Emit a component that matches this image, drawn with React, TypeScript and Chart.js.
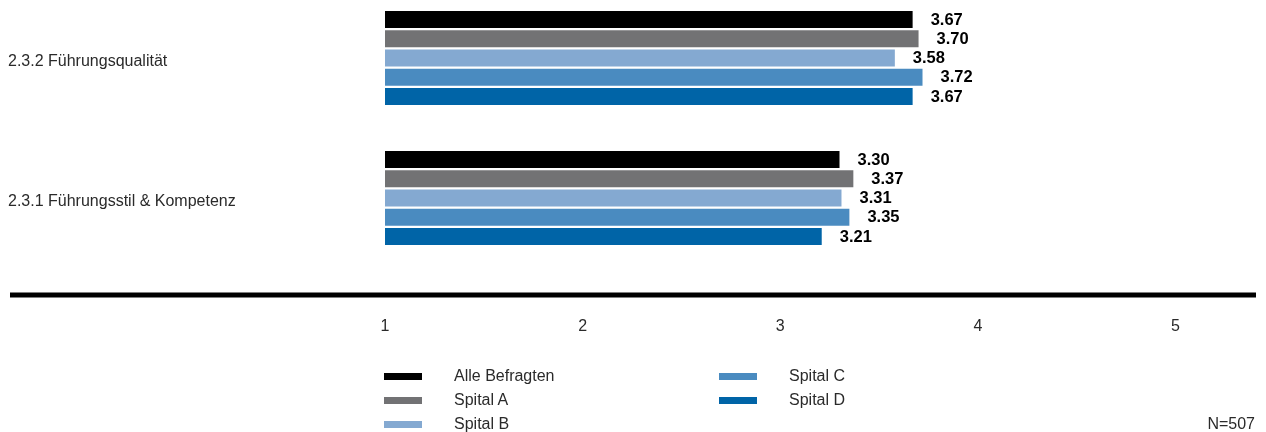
import React, { useEffect, useRef } from "react";
import { Chart, registerables } from "chart.js";

Chart.register(...registerables);

// Survey results: mean scores per hospital on a 1–5 scale
const categories = ["2.3.2 Führungsqualität", "2.3.1 Führungsstil & Kompetenz"];
const seriesNames = ["Alle Befragten", "Spital A", "Spital B", "Spital C", "Spital D"];
const alleBefragten = [3.67, 3.3];
const spitalA = [3.7, 3.37];
const spitalB = [3.58, 3.31];
const spitalC = [3.72, 3.35];
const spitalD = [3.67, 3.21];
const seriesValues = [alleBefragten, spitalA, spitalB, spitalC, spitalD];
const seriesColors = ["#000000", "#727274", "#84a9d1", "#4a8bc0", "#0064a7"];
const xTicks = [1, 2, 3, 4, 5];
const sampleNote = "N=507";

const FONT = "'Liberation Sans', Arial, Helvetica, sans-serif";
const TEXT = "#2a2a2a";

// Prints each bar's value to the right of its end
const valueLabels = {
  id: "valueLabels",
  afterDatasetsDraw(chart: any) {
    const ctx = chart.ctx;
    ctx.save();
    ctx.font = `bold 16.5px ${FONT}`;
    ctx.fillStyle = "#000";
    ctx.textAlign = "left";
    ctx.textBaseline = "middle";
    chart.data.datasets.forEach((ds: any, di: number) => {
      const meta = chart.getDatasetMeta(di);
      meta.data.forEach((bar: any, i: number) => {
        ctx.fillText(Number(ds.data[i]).toFixed(2), bar.x + 18, bar.y + 0.5);
      });
    });
    ctx.restore();
  },
};

// Heavy rule below the bars, running from the left margin to the plot's right edge
const baseRule = {
  id: "baseRule",
  afterDraw(chart: any) {
    const { ctx, chartArea } = chart;
    ctx.save();
    ctx.fillStyle = "#000";
    ctx.fillRect(10, chartArea.bottom + 94.5, chartArea.right + 1.5 - 10, 5);
    ctx.restore();
  },
};

function LegendItem({ name, color, x, y }: { name: string; color: string; x: number; y: number }) {
  return (
    <div style={{ position: "absolute", left: x, top: y - 12, height: 24, width: 300 }}>
      <div
        style={{
          position: "absolute",
          left: 0,
          top: 8.5,
          width: 38,
          height: 7.5,
          background: color,
        }}
      />
      <div
        style={{
          position: "absolute",
          left: 70,
          top: 0,
          height: 24,
          lineHeight: "24px",
          fontFamily: FONT,
          fontSize: 16,
          color: TEXT,
          whiteSpace: "nowrap",
        }}
      >
        {name}
      </div>
    </div>
  );
}

export default function App() {
  const canvasRef = useRef<HTMLCanvasElement | null>(null);

  useEffect(() => {
    const canvas = canvasRef.current;
    if (!canvas) return;
    const chart = new Chart(canvas, {
      type: "bar",
      data: {
        labels: categories,
        datasets: seriesNames.map((name, i) => ({
          label: name,
          data: seriesValues[i],
          backgroundColor: seriesColors[i],
          borderWidth: 0,
          base: 1,
          clip: false as any,
          categoryPercentage: 0.6875,
          barPercentage: 0.883,
        })),
      },
      options: {
        indexAxis: "y",
        animation: false,
        responsive: false,
        maintainAspectRatio: false,
        layout: { padding: { top: 58, left: 8, right: 11.5, bottom: 0 } },
        plugins: {
          legend: { display: false },
          tooltip: { enabled: false },
        },
        scales: {
          x: {
            type: "linear",
            min: 1,
            max: 5.4,
            grid: { display: false, drawTicks: false },
            border: { display: false },
            afterBuildTicks(scale: any) {
              scale.ticks = xTicks.map((v) => ({ value: v }));
            },
            afterFit(scale: any) {
              scale.height = 432 - 198;
              // the large label gap should not eat into the plot width
              scale.paddingLeft = 0;
              scale.paddingRight = 0;
            },
            ticks: {
              padding: 119,
              color: TEXT,
              font: { family: FONT, size: 16 },
              maxRotation: 0,
              autoSkip: false,
            },
          },
          y: {
            type: "category",
            offset: false,
            grid: { display: false, drawTicks: false },
            border: { display: false },
            afterFit(scale: any) {
              scale.width = 385 - 8;
            },
            ticks: {
              crossAlign: "far",
              labelOffset: 3.5,
              color: TEXT,
              font: { family: FONT, size: 16 },
              autoSkip: false,
            },
          },
        },
      },
      plugins: [valueLabels, baseRule],
    });
    return () => chart.destroy();
  }, []);

  return (
    <div style={{ position: "absolute", left: 0, top: 0, width: 1266, height: 432, background: "#fff" }}>
      <canvas ref={canvasRef} width={1266} height={432} style={{ position: "absolute", left: 0, top: 0, width: 1266, height: 432 }} />
      <LegendItem name={seriesNames[0]} color={seriesColors[0]} x={384} y={376} />
      <LegendItem name={seriesNames[1]} color={seriesColors[1]} x={384} y={400} />
      <LegendItem name={seriesNames[2]} color={seriesColors[2]} x={384} y={424} />
      <LegendItem name={seriesNames[3]} color={seriesColors[3]} x={719} y={376} />
      <LegendItem name={seriesNames[4]} color={seriesColors[4]} x={719} y={400} />
      <div
        style={{
          position: "absolute",
          right: 11,
          top: 412,
          height: 24,
          lineHeight: "24px",
          fontFamily: FONT,
          fontSize: 16,
          color: TEXT,
        }}
      >
        {sampleNote}
      </div>
    </div>
  );
}
